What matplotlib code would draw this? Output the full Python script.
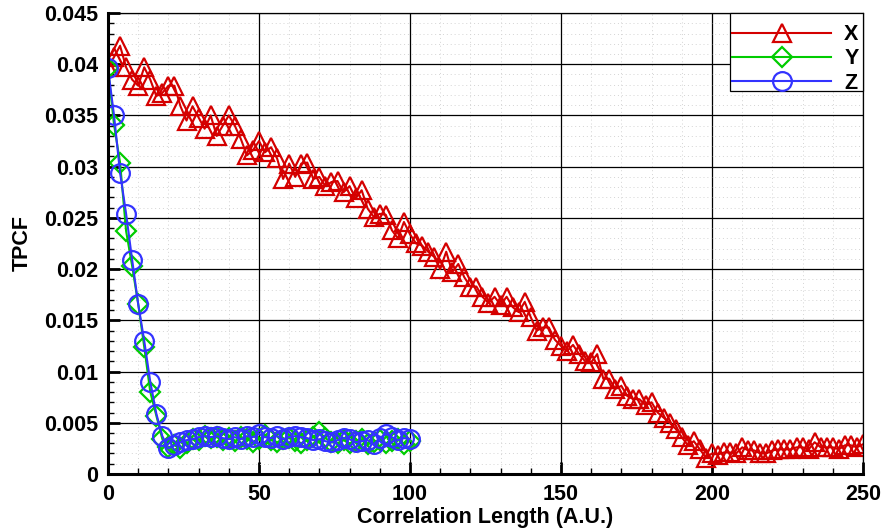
import numpy as np
import matplotlib.pyplot as plt
from matplotlib.ticker import FixedLocator
from matplotlib.patches import Rectangle

# Two-point correlation along each direction
x_lag = np.arange(0, 252, 2)
tpcf_x = [
    0.0397, 0.0407, 0.0418, 0.0397, 0.0385, 0.0379, 0.0397, 0.0385, 0.0369, 0.0372,
    0.0379, 0.0379, 0.0359, 0.0345, 0.0359, 0.0348, 0.0337, 0.0350, 0.0330, 0.0340,
    0.0350, 0.0340, 0.0327, 0.0311, 0.0316, 0.0325, 0.0314, 0.0319, 0.0308, 0.0288,
    0.0303, 0.0290, 0.0303, 0.0304, 0.0288, 0.0290, 0.0281, 0.0285, 0.0286, 0.0275,
    0.0281, 0.0269, 0.0277, 0.0259, 0.0251, 0.0254, 0.0253, 0.0238, 0.0230, 0.0246,
    0.0234, 0.0225, 0.0223, 0.0217, 0.0212, 0.0200, 0.0217, 0.0197, 0.0205, 0.0192,
    0.0183, 0.0183, 0.0173, 0.0167, 0.0173, 0.0165, 0.0173, 0.0163, 0.0158, 0.0168,
    0.0153, 0.0140, 0.0143, 0.0143, 0.0131, 0.0125, 0.0120, 0.0126, 0.0117, 0.0110,
    0.0109, 0.0117, 0.0093, 0.0093, 0.0083, 0.0086, 0.0076, 0.0073, 0.0073, 0.0067,
    0.0070, 0.0060, 0.0055, 0.0050, 0.0044, 0.0036, 0.0028, 0.0032, 0.0024, 0.0016,
    0.0020, 0.0019, 0.0021, 0.0021, 0.0020, 0.0026, 0.0023, 0.0023, 0.0020, 0.0020,
    0.0023, 0.0024, 0.0024, 0.0024, 0.0026, 0.0026, 0.0024, 0.0031, 0.0026, 0.0026,
    0.0026, 0.0024, 0.0028, 0.0028, 0.0026, 0.0029,
]

yz_lag = np.arange(0, 102, 2)
tpcf_y = [
    0.0396, 0.0341, 0.0304, 0.0237, 0.0203, 0.0166, 0.0124, 0.0080, 0.0057, 0.0034,
    0.0026, 0.0028, 0.0025, 0.0030, 0.0034, 0.0033, 0.0037, 0.0035, 0.0036, 0.0033,
    0.0035, 0.0032, 0.0036, 0.0034, 0.0031, 0.0034, 0.0038, 0.0033, 0.0031, 0.0034,
    0.0035, 0.0032, 0.0030, 0.0033, 0.0036, 0.0041, 0.0035, 0.0031, 0.0030, 0.0033,
    0.0030, 0.0032, 0.0034, 0.0029, 0.0031, 0.0033, 0.0030, 0.0032, 0.0034, 0.0029,
    0.0032,
]
tpcf_z = [
    0.0396, 0.0350, 0.0294, 0.0254, 0.0209, 0.0166, 0.0130, 0.0090, 0.0059, 0.0037,
    0.0025, 0.0028, 0.0031, 0.0033, 0.0034, 0.0036, 0.0037, 0.0036, 0.0037, 0.0035,
    0.0034, 0.0036, 0.0034, 0.0037, 0.0036, 0.0039, 0.0036, 0.0035, 0.0037, 0.0034,
    0.0036, 0.0037, 0.0036, 0.0035, 0.0033, 0.0034, 0.0032, 0.0031, 0.0033, 0.0035,
    0.0034, 0.0031, 0.0032, 0.0033, 0.0029, 0.0035, 0.0039, 0.0036, 0.0033, 0.0035,
    0.0034,
]

x_major = [0, 50, 100, 150, 200, 250]
y_major = [0, 0.005, 0.01, 0.015, 0.02, 0.025, 0.03, 0.035, 0.04, 0.045]
y_labels = ['0', '0.005', '0.01', '0.015', '0.02', '0.025',
            '0.03', '0.035', '0.04', '0.045']

plt.rcParams['font.family'] = ['Liberation Sans', 'DejaVu Sans']
plt.rcParams['font.weight'] = 'bold'
fs = 15.5

fig = plt.figure(figsize=(8.83, 5.29), dpi=100)
ax = fig.add_axes([0.1223, 0.104, 0.855, 0.8714])

ax.plot(x_lag, tpcf_x, color='#d40000', lw=1.5, marker='^', ms=13,
        mfc='none', mec='#d40000', mew=1.6, label='X')
ax.plot(yz_lag, tpcf_y, color='#00cc00', lw=1.5, marker='D', ms=10,
        mfc='none', mec='#00cc00', mew=1.6, label='Y')
ax.plot(yz_lag, tpcf_z, color='#3333ff', lw=1.5, marker='o', ms=13.5,
        mfc='none', mec='#3333ff', mew=1.6, label='Z')

ax.set_xlim(0, 250)
ax.set_ylim(0, 0.045)
ax.set_xticks(x_major)
ax.set_yticks(y_major)
ax.set_yticklabels(y_labels)
# minor positions that skip the major ones
ax.xaxis.set_minor_locator(FixedLocator([v for v in range(0, 251, 10) if v % 50]))
ax.yaxis.set_minor_locator(FixedLocator([i * 0.001 for i in range(46) if i % 5]))

ax.grid(which='minor', color='#d4d4d4', lw=0.7, ls=(0, (1, 3)))
ax.grid(which='major', color='black', lw=0.9, ls='-')
ax.set_axisbelow(True)

ax.tick_params(which='major', direction='in', length=8.5, width=2,
               labelsize=fs, pad=7, top=False, right=False)
ax.tick_params(which='minor', direction='in', length=4.5, width=1,
               top=False, right=False)
for lbl in ax.get_xticklabels() + ax.get_yticklabels():
    lbl.set_fontweight('bold')

for side in ['left', 'bottom']:
    ax.spines[side].set_linewidth(2.2)
for side in ['top', 'right']:
    ax.spines[side].set_linewidth(0.9)

ax.set_xlabel('Correlation Length (A.U.)', fontsize=fs, fontweight='bold', labelpad=2)
ax.set_ylabel('TPCF', fontsize=fs, fontweight='bold', labelpad=8)

# legend box drawn separately so the entries can sit low in it
ax.add_patch(Rectangle((0.8238, 0.8308), 0.1762, 0.1692, transform=ax.transAxes,
                       facecolor='white', edgecolor='black', lw=0.9,
                       zorder=4.9, clip_on=False))
ax.legend(loc='upper right', bbox_to_anchor=(1.0, 0.985), borderaxespad=0,
          frameon=False, handlelength=4.6, handletextpad=0.6, labelspacing=0.15,
          borderpad=0.2, prop={'size': fs, 'weight': 'bold'})

fig.savefig('out.png', dpi=100)
